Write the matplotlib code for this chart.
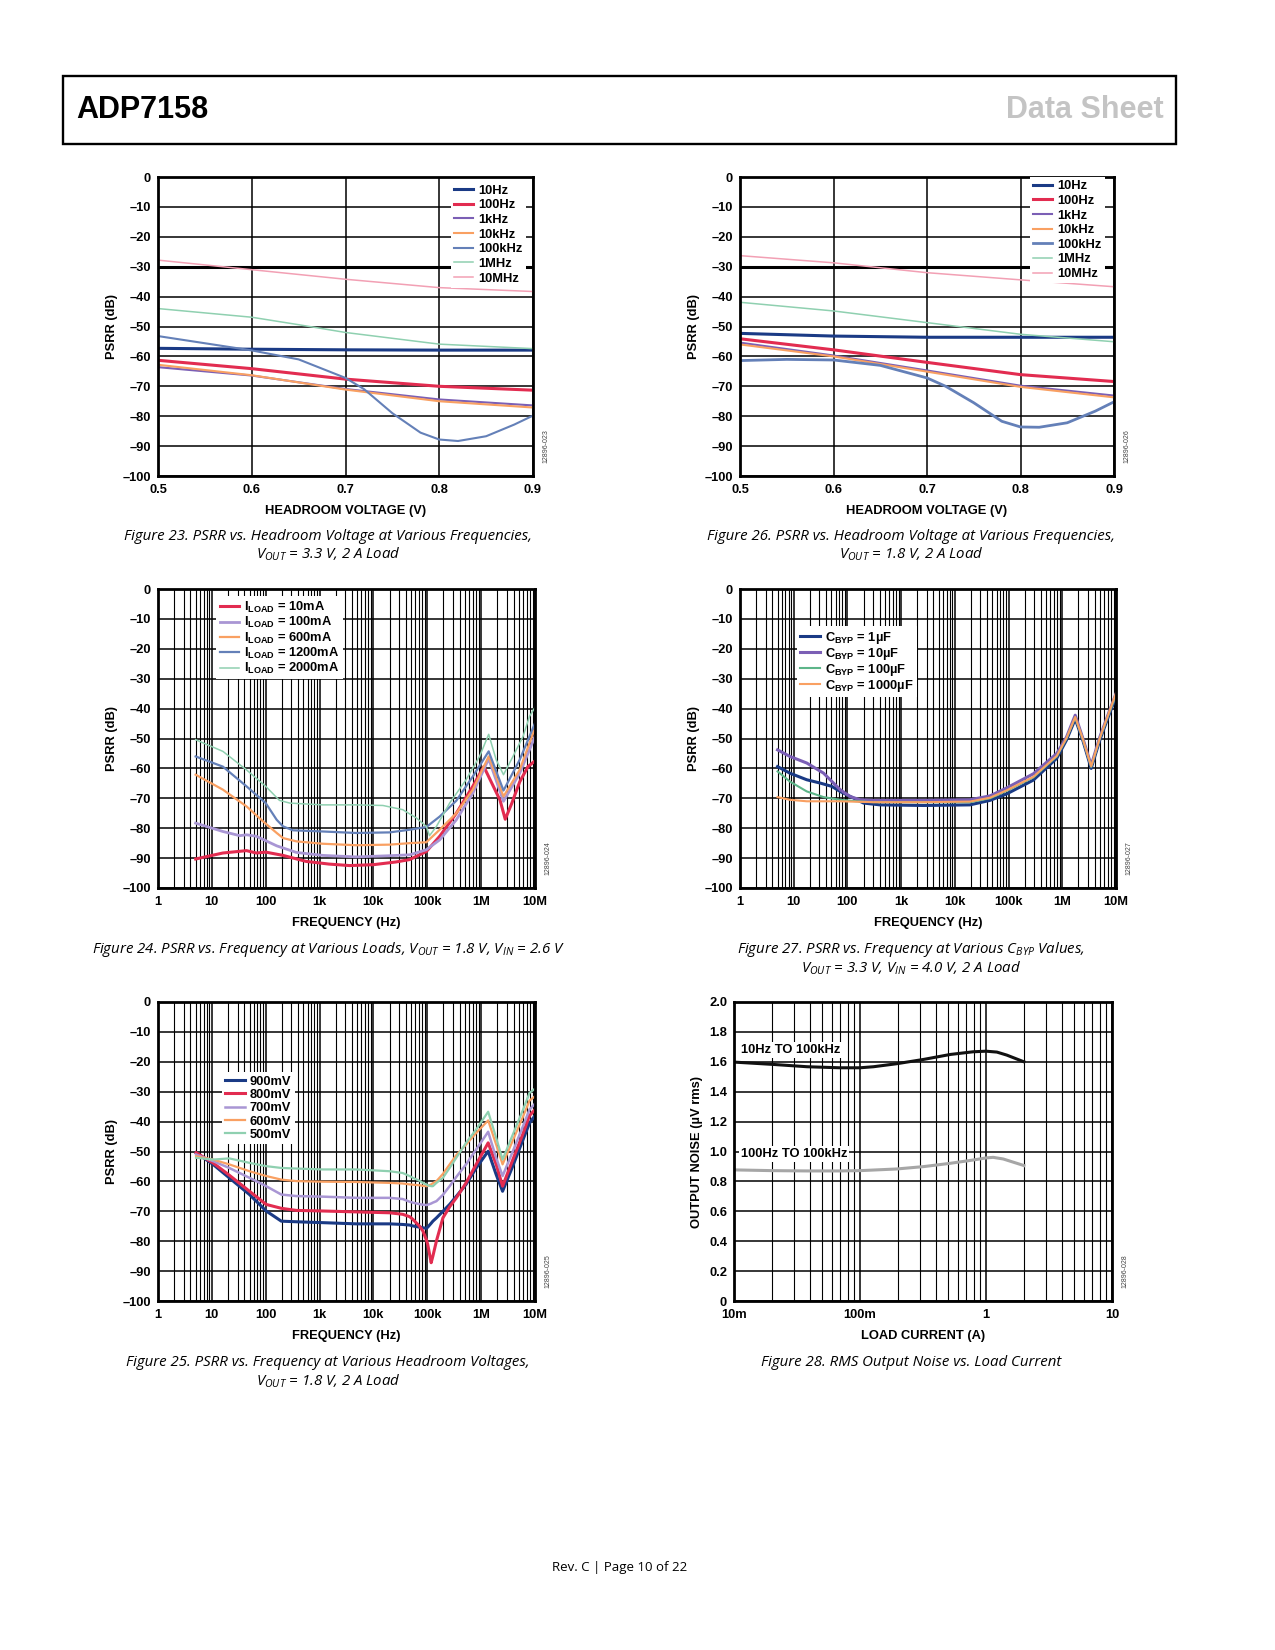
import matplotlib
matplotlib.use('Agg')
import matplotlib.pyplot as plt
from matplotlib.patches import Rectangle
from matplotlib.ticker import LogLocator, NullFormatter
import numpy as np

W, H = 1275, 1650

# ---- colours
NAVY = '#1a3a85'
RED = '#e22c50'
PURPLE = '#7b5fb5'
LPURPLE = '#a996d4'
ORANGE = '#f9a062'
STEEL = '#6480b8'
MINT = '#8fd0b0'
GREEN = '#5db589'
PINK = '#f2a0b4'

# ---- Figure 23: PSRR vs headroom, VOUT = 3.3 V
hr23 = [0.5, 0.6, 0.7, 0.8, 0.9]
f23_10hz = [-57.3, -57.6, -57.8, -57.9, -57.9]
f23_100hz = [-61.3, -64.1, -67.6, -70.0, -71.3]
f23_1khz = [-63.6, -66.4, -70.9, -74.4, -76.4]
f23_10khz = [-62.8, -66.3, -71.1, -75.0, -77.1]
hr23_100k = [0.5, 0.55, 0.6, 0.65, 0.7, 0.72, 0.75, 0.78, 0.8, 0.82, 0.85, 0.88, 0.9]
f23_100khz = [-53.2, -55.6, -58.0, -61.0, -67.2, -71.0, -79.0, -85.5, -87.8, -88.3, -86.7, -82.8, -79.8]
hr23_1m = [0.5, 0.6, 0.65, 0.7, 0.8, 0.9]
f23_1mhz = [-44.0, -46.9, -49.4, -52.0, -55.9, -57.4]
f23_10mhz = [-27.8, -31.0, -34.2, -37.0, -38.3]

# ---- Figure 26: PSRR vs headroom, VOUT = 1.8 V
hr26 = [0.5, 0.6, 0.7, 0.8, 0.9]
f26_10hz = [-52.3, -53.2, -53.6, -53.6, -53.6]
f26_100hz = [-54.1, -57.8, -62.0, -66.1, -68.4]
f26_1khz = [-55.4, -59.7, -64.7, -69.8, -73.1]
f26_10khz = [-56.0, -60.0, -65.1, -70.2, -73.7]
hr26_100k = [0.5, 0.55, 0.6, 0.65, 0.7, 0.72, 0.75, 0.78, 0.8, 0.82, 0.85, 0.88, 0.9]
f26_100khz = [-61.4, -61.0, -61.2, -63.0, -67.2, -70.0, -75.5, -81.7, -83.6, -83.7, -82.2, -78.3, -75.2]
f26_1mhz = [-41.9, -44.8, -48.7, -52.6, -55.1]
f26_10mhz = [-26.3, -28.7, -32.0, -34.4, -36.7]

# ---- Figure 24: PSRR vs frequency at various loads
fq24_10 = [5, 16, 44, 67, 100, 210, 560, 1500, 3600, 10e3, 26e3, 47e3, 96e3, 170e3, 346e3, 700e3,
           1.12e6, 1.48e6, 2.24e6, 2.8e6, 3.7e6, 5.2e6, 7.4e6, 10e6]
ps24_10 = [-90.3, -88.3, -87.5, -88.3, -88.0, -89.1, -91.1, -92.0, -92.5, -92.2, -91.3, -90.5, -87.8,
           -82.7, -75.0, -66.0, -59.4, -63.9, -70.6, -77.0, -71.7, -64.5, -59.4, -57.5]
fq24_100 = [5, 16, 33, 44, 67, 160, 370, 1150, 4800, 20e3, 47e3, 96e3, 170e3, 346e3, 700e3,
            1.38e6, 2.6e6, 5.2e6, 10e6]
ps24_100 = [-78.3, -81.1, -82.5, -82.2, -82.7, -85.9, -88.1, -89.1, -89.6, -89.2, -88.9, -87.2,
            -83.9, -77.2, -68.3, -56.8, -71.0, -61.6, -49.3]
fq24_600 = [5, 16, 44, 89, 160, 210, 370, 1150, 4800, 20e3, 47e3, 96e3, 170e3, 346e3, 700e3,
            1.38e6, 2.6e6, 5.2e6, 10e6]
ps24_600 = [-62.1, -67.1, -72.7, -77.7, -81.6, -83.3, -84.4, -85.2, -85.7, -85.5, -85.0, -84.7,
            -80.5, -75.0, -67.1, -56.0, -69.4, -60.5, -46.5]
fq24_1200 = [5, 16, 44, 100, 160, 210, 320, 1150, 4800, 20e3, 47e3, 96e3, 170e3, 346e3, 700e3,
             1.38e6, 2.6e6, 5.2e6, 10e6]
ps24_1200 = [-56.0, -59.4, -66.0, -71.6, -77.2, -79.4, -80.7, -81.1, -81.6, -81.4, -80.5, -79.6,
             -76.1, -70.8, -62.7, -54.3, -67.4, -57.1, -44.9]
fq24_2000 = [5, 16, 44, 100, 180, 280, 1150, 4800, 15e3, 35e3, 63e3, 96e3, 110e3, 148e3, 260e3,
             525e3, 935e3, 1.38e6, 1.9e6, 2.6e6, 3.9e6, 6e6, 7.9e6, 10e6]
ps24_2000 = [-50.4, -54.3, -60.5, -66.0, -70.7, -71.6, -72.2, -72.2, -72.4, -73.8, -76.6, -79.4,
             -82.5, -79.4, -71.6, -63.8, -56.0, -48.6, -57.1, -62.1, -56.0, -49.3, -42.6, -39.6]

# ---- Figure 27: PSRR vs frequency at various CBYP
fq27_1u = [5, 8.5, 17.5, 31, 51, 73, 129, 200, 405, 2.6e3, 19e3, 45e3, 93e3, 290e3, 790e3,
           1.2e6, 1.74e6, 2.4e6, 3.45e6, 5e6, 7.2e6, 10e6]
ps27_1u = [-59.4, -61.6, -63.8, -64.9, -66.0, -67.7, -69.9, -71.6, -72.2, -72.4, -72.2, -70.7,
           -68.5, -63.9, -56.6, -50.5, -43.5, -50.5, -60.0, -50.5, -42.7, -36.0]
fq27_10u = [5, 8.5, 17.5, 36, 55, 73, 112, 172, 305, 2.6e3, 19e3, 45e3, 93e3, 290e3, 790e3,
            1.2e6, 1.74e6, 2.4e6, 3.45e6, 5e6, 7.2e6, 10e6]
ps27_10u = [-53.8, -56.0, -58.2, -61.6, -64.9, -67.1, -69.4, -70.5, -70.7, -70.7, -70.5, -69.2,
            -66.5, -61.8, -55.0, -49.5, -42.2, -49.8, -59.0, -49.5, -41.8, -35.0]
fq27_100u = [5, 8.5, 17.5, 36, 73, 149, 305, 2.6e3, 19e3, 45e3, 93e3, 290e3, 790e3, 1.2e6,
             1.74e6, 2.4e6, 3.45e6, 5e6, 7.2e6, 10e6]
ps27_100u = [-61.0, -64.4, -67.7, -69.6, -70.5, -71.0, -71.3, -71.3, -71.3, -70.0, -67.5, -63.0,
             -56.0, -50.0, -43.0, -50.2, -59.5, -50.0, -42.2, -35.5]
fq27_1000u = [5, 8.5, 17.5, 73, 305, 2.6e3, 19e3, 45e3, 93e3, 290e3, 790e3, 1.2e6, 1.74e6,
              2.4e6, 3.45e6, 5e6, 7.2e6, 10e6]
ps27_1000u = [-69.6, -70.5, -71.0, -71.0, -71.3, -71.3, -71.1, -69.8, -67.3, -62.8, -55.8, -49.8,
              -42.8, -50.0, -59.3, -49.8, -41.9, -34.8]

# ---- Figure 25: PSRR vs frequency at various headroom voltages
fq25 = [5.1, 10.5, 21, 50, 102, 195, 370, 1150, 4800, 20e3, 35e3, 47e3, 54e3, 72e3, 83e3, 96e3,
        102e3, 118e3, 127e3, 148e3, 195e3, 260e3, 346e3, 525e3, 810e3, 1.35e6, 1.9e6, 2.5e6,
        3.9e6, 6e6, 7.9e6, 10e6]
ps25_900 = [-50.4, -54.3, -58.8, -64.4, -69.9, -73.3, -73.5, -73.8, -74.2, -74.2, -74.4, -74.6,
            -74.9, -75.3, -75.5, -75.7, -75.3, -74.0, -73.3, -72.2, -70.0, -67.7, -65.0, -61.0,
            -55.5, -49.9, -57.7, -63.3, -54.7, -46.0, -40.5, -38.0]
ps25_800 = [-50.4, -53.8, -57.9, -63.3, -67.7, -69.0, -69.7, -69.9, -70.2, -70.5, -71.0, -71.8,
            -72.7, -75.0, -76.6, -79.5, -81.1, -87.2, -85.0, -79.9, -72.2, -68.5, -65.5, -60.5,
            -54.3, -47.1, -54.3, -61.6, -52.6, -44.0, -38.0, -36.0]
ps25_700 = [-51.0, -53.2, -55.5, -58.8, -61.6, -64.4, -64.9, -65.1, -65.5, -65.5, -65.9, -66.8,
            -67.1, -67.6, -67.8, -67.9, -67.8, -67.4, -67.1, -66.6, -64.5, -61.6, -58.5, -54.3,
            -49.3, -43.4, -52.1, -58.2, -49.8, -41.5, -36.0, -34.0]
ps25_600 = [-51.6, -52.7, -54.3, -56.6, -58.2, -59.4, -59.9, -60.1, -60.2, -60.5, -60.7, -61.0,
            -61.1, -61.3, -61.5, -61.6, -61.5, -61.0, -60.6, -59.9, -57.5, -54.3, -51.2, -47.7,
            -43.8, -39.6, -47.7, -54.3, -46.2, -38.3, -33.0, -31.5]
ps25_500 = [-52.1, -52.7, -52.3, -53.8, -54.9, -55.5, -55.7, -56.0, -56.0, -56.6, -57.2, -58.2,
            -58.8, -59.8, -60.5, -61.0, -61.3, -61.6, -61.6, -60.5, -58.8, -55.5, -52.1, -47.1,
            -42.6, -36.7, -45.4, -52.7, -44.2, -36.0, -30.4, -29.0]

# ---- Figure 28: RMS output noise vs load current
cur_10hz = [0.01, 0.02, 0.038, 0.069, 0.1, 0.128, 0.195, 0.32, 0.52, 0.79, 1.0, 1.22, 1.46, 2.0]
noise_10hz = [1.598, 1.583, 1.567, 1.560, 1.560, 1.567, 1.587, 1.616, 1.649, 1.667, 1.671, 1.665,
              1.645, 1.600]
cur_100hz = [0.01, 0.02, 0.038, 0.069, 0.1, 0.195, 0.32, 0.52, 0.79, 1.0, 1.14, 1.37, 2.0]
noise_100hz = [0.877, 0.872, 0.870, 0.870, 0.872, 0.883, 0.899, 0.921, 0.943, 0.957, 0.961, 0.950,
               0.906]

psrr_ticks = list(range(-100, 1, 10))
psrr_labels = ['0' if v == 0 else '\u2013%d' % -v for v in psrr_ticks]
freq_ticks = [1, 10, 100, 1e3, 1e4, 1e5, 1e6, 1e7]
freq_labels = ['1', '10', '100', '1k', '10k', '100k', '1M', '10M']
MU = '\u00b5'

plt.rcParams['font.family'] = ['Liberation Sans', 'DejaVu Sans']
plt.rcParams['mathtext.fontset'] = 'custom'
plt.rcParams['mathtext.rm'] = 'Liberation Sans:bold'
plt.rcParams['mathtext.bf'] = 'Liberation Sans:bold'
plt.rcParams['mathtext.it'] = 'Open Sans:italic:weight=normal'

CAP_FONT = ['Open Sans', 'DejaVu Sans']
FS = 9.3

fig = plt.figure(figsize=(W / 100, H / 100), dpi=100)


def make_axes(x0, y0, x1, y1):
    return fig.add_axes([x0 / W, 1 - y1 / H, (x1 - x0) / W, (y1 - y0) / H])


def base_style(ax, xlabel, ylabel, code, ylab_px=46):
    ax.tick_params(which='both', length=0, labelsize=FS)
    ax.tick_params(axis='x', pad=6)
    ax.tick_params(axis='y', pad=5)
    for lab in ax.get_xticklabels() + ax.get_yticklabels():
        lab.set_fontweight('bold')
    for s in ax.spines.values():
        s.set_linewidth(2)
    ax.grid(which='major', color='k', lw=1.1)
    ax.set_xlabel(xlabel, fontsize=FS, fontweight='bold', va='center')
    ax.set_ylabel(ylabel, fontsize=FS, fontweight='bold', va='center')
    bb = ax.get_position()
    wpx = bb.width * W
    hpx = bb.height * H
    ax.xaxis.set_label_coords(0.5, -35 / hpx)
    ax.yaxis.set_label_coords(-ylab_px / wpx, 0.5)
    ax.text(1 + 13 / wpx, 0.10, code, transform=ax.transAxes, rotation=90, fontsize=5,
            color='#444444', ha='center', va='center')


def psrr_y(ax):
    ax.set_ylim(-100, 0)
    ax.set_yticks(psrr_ticks)
    ax.set_yticklabels(psrr_labels)


def log_x(ax, lo, hi, ticks, labels):
    ax.set_xscale('log')
    ax.set_xlim(lo, hi)
    ax.set_xticks(ticks)
    ax.set_xticklabels(labels)
    ax.xaxis.set_minor_locator(LogLocator(base=10, subs=np.arange(2, 10), numticks=100))
    ax.xaxis.set_minor_formatter(NullFormatter())
    ax.grid(which='minor', axis='x', color='k', lw=0.8)
    ax.grid(which='major', axis='x', color='k', lw=1.6)


def legend(ax, x0, top, spacing=0.1):
    return ax.legend(loc='upper left', bbox_to_anchor=(x0, top), frameon=True, fancybox=False,
                     edgecolor='none', facecolor='white', framealpha=1,
                     prop={'size': FS, 'weight': 'bold'}, handlelength=1.5, handletextpad=0.4,
                     labelspacing=spacing, borderpad=0.25, borderaxespad=0)


def caption(xc, yc, txt):
    fig.text(xc / W, 1 - yc / H, txt, ha='center', va='center', fontsize=10.8,
             family=CAP_FONT, style='italic')


# ---- header
fig.add_artist(Rectangle((63 / W, 1 - 144 / H), (1176 - 63) / W, (144 - 76) / H,
                         transform=fig.transFigure, fill=False, lw=1.7, ec='k'))
fig.text(76 / W, 1 - 110 / H, 'ADP7158', ha='left', va='center', fontsize=22,
         fontweight='bold')
fig.text(1164 / W, 1 - 110 / H, 'Data Sheet', ha='right', va='center', fontsize=22,
         fontweight='bold', color='#c4c4c4')

# ---- Fig 23
ax = make_axes(158, 177, 533, 476)
ax.plot(hr23, f23_10hz, color=NAVY, lw=2.2, label='10Hz')
ax.plot(hr23, f23_100hz, color=RED, lw=2.2, label='100Hz')
ax.plot(hr23, f23_1khz, color=PURPLE, lw=1.5, label='1kHz')
ax.plot(hr23, f23_10khz, color=ORANGE, lw=1.5, label='10kHz')
ax.plot(hr23_100k, f23_100khz, color=STEEL, lw=1.5, label='100kHz')
ax.plot(hr23_1m, f23_1mhz, color=MINT, lw=1.1, label='1MHz')
ax.plot(hr23, f23_10mhz, color=PINK, lw=1.1, label='10MHz')
ax.set_xlim(0.5, 0.9)
ax.set_xticks([0.5, 0.6, 0.7, 0.8, 0.9])
ax.set_xticklabels(['0.5', '0.6', '0.7', '0.8', '0.9'])
psrr_y(ax)
ax.axhline(-30, color='k', lw=2.2, zorder=1.6)
base_style(ax, 'HEADROOM VOLTAGE (V)', 'PSRR (dB)', '12896-023')
legend(ax, 0.78, 0.985, 0.2)
caption(328, 536, 'Figure 23. PSRR vs. Headroom Voltage at Various Frequencies,')
caption(328, 554, r'V$_{\mathit{OUT}}$ = 3.3 V, 2 A Load')

# ---- Fig 26
ax = make_axes(740, 177, 1114, 476)
ax.plot(hr26, f26_10hz, color=NAVY, lw=2.2, label='10Hz')
ax.plot(hr26, f26_100hz, color=RED, lw=2.2, label='100Hz')
ax.plot(hr26, f26_1khz, color=PURPLE, lw=1.5, label='1kHz')
ax.plot(hr26, f26_10khz, color=ORANGE, lw=1.5, label='10kHz')
ax.plot(hr26_100k, f26_100khz, color=STEEL, lw=2.0, label='100kHz')
ax.plot(hr26, f26_1mhz, color=MINT, lw=1.1, label='1MHz')
ax.plot(hr26, f26_10mhz, color=PINK, lw=1.1, label='10MHz')
ax.set_xlim(0.5, 0.9)
ax.set_xticks([0.5, 0.6, 0.7, 0.8, 0.9])
ax.set_xticklabels(['0.5', '0.6', '0.7', '0.8', '0.9'])
psrr_y(ax)
ax.axhline(-30, color='k', lw=2.2, zorder=1.6)
base_style(ax, 'HEADROOM VOLTAGE (V)', 'PSRR (dB)', '12896-026')
legend(ax, 0.775, 1.0, 0.2)
caption(911, 536, 'Figure 26. PSRR vs. Headroom Voltage at Various Frequencies,')
caption(911, 554, r'V$_{\mathit{OUT}}$ = 1.8 V, 2 A Load')

# ---- Fig 24
ax = make_axes(158, 589, 535, 888)
ax.plot(fq24_10, ps24_10, color=RED, lw=2.2, label=r'I$_{\mathrm{LOAD}}$ = 10mA')
ax.plot(fq24_100, ps24_100, color=LPURPLE, lw=2.0, label=r'I$_{\mathrm{LOAD}}$ = 100mA')
ax.plot(fq24_600, ps24_600, color=ORANGE, lw=1.6, label=r'I$_{\mathrm{LOAD}}$ = 600mA')
ax.plot(fq24_1200, ps24_1200, color=STEEL, lw=1.6, label=r'I$_{\mathrm{LOAD}}$ = 1200mA')
ax.plot(fq24_2000, ps24_2000, color=MINT, lw=1.1, label=r'I$_{\mathrm{LOAD}}$ = 2000mA')
log_x(ax, 1, 1e7, freq_ticks, freq_labels)
psrr_y(ax)
base_style(ax, 'FREQUENCY (Hz)', 'PSRR (dB)', '12896-024')
legend(ax, 0.155, 0.975, 0.02)
caption(328, 949, r'Figure 24. PSRR vs. Frequency at Various Loads, V$_{\mathit{OUT}}$ = 1.8 V, '
                  r'V$_{\mathit{IN}}$ = 2.6 V')

# ---- Fig 27
ax = make_axes(740, 589, 1116, 888)
ax.plot(fq27_1u, ps27_1u, color=NAVY, lw=2.2, label=r'C$_{\mathrm{BYP}}$ = 1' + MU + 'F')
ax.plot(fq27_10u, ps27_10u, color=PURPLE, lw=2.2, label=r'C$_{\mathrm{BYP}}$ = 10' + MU + 'F')
ax.plot(fq27_100u, ps27_100u, color=GREEN, lw=1.5, label=r'C$_{\mathrm{BYP}}$ = 100' + MU + 'F')
ax.plot(fq27_1000u, ps27_1000u, color=ORANGE, lw=1.5, label=r'C$_{\mathrm{BYP}}$ = 1000' + MU + 'F')
log_x(ax, 1, 1e7, freq_ticks, freq_labels)
psrr_y(ax)
base_style(ax, 'FREQUENCY (Hz)', 'PSRR (dB)', '12896-027')
legend(ax, 0.152, 0.875, 0.0)
caption(911, 949, r'Figure 27. PSRR vs. Frequency at Various C$_{\mathit{BYP}}$ Values,')
caption(911, 968, r'V$_{\mathit{OUT}}$ = 3.3 V, V$_{\mathit{IN}}$ = 4.0 V, 2 A Load')

# ---- Fig 25
ax = make_axes(158, 1002, 535, 1301)
ax.plot(fq25, ps25_900, color=NAVY, lw=2.2, label='900mV')
ax.plot(fq25, ps25_800, color=RED, lw=2.2, label='800mV')
ax.plot(fq25, ps25_700, color=LPURPLE, lw=1.8, label='700mV')
ax.plot(fq25, ps25_600, color=ORANGE, lw=1.6, label='600mV')
ax.plot(fq25, ps25_500, color=MINT, lw=1.6, label='500mV')
log_x(ax, 1, 1e7, freq_ticks, freq_labels)
psrr_y(ax)
base_style(ax, 'FREQUENCY (Hz)', 'PSRR (dB)', '12896-025')
legend(ax, 0.17, 0.765, 0.1)
caption(328, 1362, 'Figure 25. PSRR vs. Frequency at Various Headroom Voltages,')
caption(328, 1381, r'V$_{\mathit{OUT}}$ = 1.8 V, 2 A Load')

# ---- Fig 28
ax = make_axes(734, 1002, 1112, 1301)
ax.plot(cur_10hz, noise_10hz, color='#111111', lw=2.2)
ax.plot(cur_100hz, noise_100hz, color='#a6a6a6', lw=2.2)
log_x(ax, 0.01, 10, [0.01, 0.1, 1, 10], ['10m', '100m', '1', '10'])
ax.set_ylim(0, 2.0)
ax.set_yticks(np.arange(0, 2.01, 0.2))
ax.set_yticklabels(['0'] + ['%.1f' % v for v in np.arange(0.2, 2.01, 0.2)])
base_style(ax, 'LOAD CURRENT (A)', 'OUTPUT NOISE (' + MU + 'V rms)', '12896-028', ylab_px=37)
ax.text(0.0113, 1.679, '10Hz TO 100kHz', fontsize=FS, fontweight='bold', ha='left', va='center',
        bbox=dict(fc='white', ec='none', pad=1.5))
ax.text(0.0113, 0.983, '100Hz TO 100kHz', fontsize=FS, fontweight='bold', ha='left', va='center',
        bbox=dict(fc='white', ec='none', pad=1.5))
caption(911, 1362, 'Figure 28. RMS Output Noise vs. Load Current')

# ---- footer
fig.text(620 / W, 1 - 1567 / H, 'Rev. C | Page 10 of 22', ha='center', va='center', fontsize=9.5,
         family=CAP_FONT)

fig.savefig('out.png', dpi=100)
